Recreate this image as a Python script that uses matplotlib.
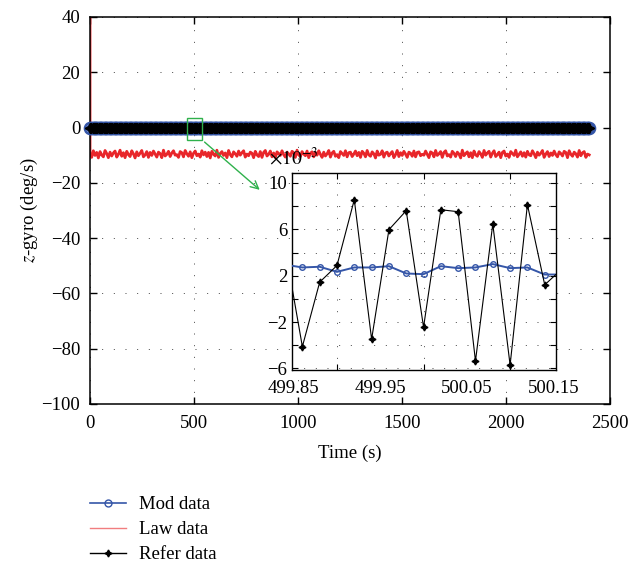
import numpy as np
import matplotlib.pyplot as plt
from matplotlib.patches import Rectangle
from matplotlib.lines import Line2D

plt.rcParams['font.family'] = ['Liberation Serif', 'DejaVu Serif']
plt.rcParams['mathtext.fontset'] = 'stix'
plt.rcParams['font.size'] = 13.5

# ---- main plot data ----
t_end = 2400
band_step = 6
band_level = 0.0   # mod / refer data are ~1e-3, i.e. zero at this scale
law_start = 45.0   # first law sample, goes off the top
law_noise = [
    -9.6, -10.8, -8.4, -10.1, -9.0, -11.0, -8.7, -9.9, -10.6, -8.3, -9.4, -10.9, -8.9, -10.3, -9.2, -8.5, -10.7, -9.7, -8.2, -10.4,
    -9.1, -10.9, -8.6, -9.8, -10.5, -8.4, -9.5, -11.0, -8.8, -10.2, -9.3, -8.3, -10.6, -9.9, -8.7, -10.8, -9.0, -10.1, -8.5, -9.6,
    -10.7, -8.9, -9.4, -10.9, -8.2, -10.3, -9.7, -8.6, -10.5, -9.2, -8.4, -10.0, -9.8, -10.8, -8.7, -9.1, -10.6, -8.3, -9.5, -10.4,
    -8.8, -10.9, -9.3, -8.5, -10.2, -9.6, -10.7, -8.4, -9.9, -8.9, -10.5, -9.0, -11.0, -8.6, -9.7, -10.3, -8.2, -10.8, -9.4, -8.7,
    -10.1, -9.2, -10.9, -8.3, -9.8, -10.6, -8.8, -9.5, -10.4, -8.5, -10.0, -9.1, -8.4, -10.7, -9.6, -10.2, -8.9, -9.3, -10.9, -8.6,
    -9.9, -10.5, -8.7, -10.8, -9.0, -8.3, -10.3, -9.7, -8.5, -10.6, -9.2, -10.9, -8.8, -9.4, -10.1, -8.4, -9.8, -10.7, -8.9, -9.5,
    -10.4, -8.6, -9.1, -10.8, -8.2, -9.9, -10.5, -8.7, -9.6, -10.2, -8.5, -10.9, -9.3, -8.8, -10.6, -9.0, -10.0, -8.4, -9.7, -10.8,
    -8.9, -10.3, -9.5, -8.3, -10.7, -9.2, -8.6, -10.4, -9.8, -10.9, -8.7, -9.4, -10.1, -8.4, -10.6, -9.1, -8.9, -10.5, -9.6, -8.5,
    -10.2, -9.0, -10.8, -8.6, -9.3, -10.6, -8.3, -9.9, -10.4, -8.8, -9.5, -11.0, -8.5, -10.0, -9.7, -8.4, -10.7, -9.2, -8.9, -10.3,
    -9.4, -8.7, -10.9, -9.8, -8.3, -10.5, -9.1, -10.1, -8.6, -9.6, -10.8, -8.9, -9.3, -10.4, -8.5, -10.6, -9.0, -8.8, -10.2, -9.7,
    -10.0, -8.5, -9.7, -10.9, -8.8, -9.2, -10.6, -8.3, -10.1, -9.5, -8.7, -10.8, -9.0, -8.4, -10.3, -9.8, -10.7, -8.6, -9.3, -10.5,
    -8.9, -9.6, -11.0, -8.2, -10.2, -9.4, -8.8, -10.6, -9.1, -10.9, -8.5, -9.9, -10.4, -8.7, -9.5, -10.8, -8.3, -10.0, -9.2, -8.6,
    -10.7, -9.3, -8.4, -10.5, -9.8, -8.9, -10.9, -9.0, -8.5, -10.3, -9.6, -10.8, -8.7, -9.4, -10.1, -8.2, -10.6, -9.7, -8.8, -10.4,
    -9.1, -10.7, -8.6, -9.9, -10.2, -8.4, -9.5, -10.9, -8.9, -10.0, -9.3, -8.3, -10.8, -9.6, -8.7, -10.5, -9.2, -10.1, -8.5, -9.8,
    -10.6, -8.8, -9.4, -10.3, -8.6, -9.0, -10.9, -8.4, -9.7, -10.4, -8.9, -9.5, -10.7, -8.3, -10.2, -9.1, -8.7, -10.8, -9.6, -9.9,
]

# ---- inset data (x 1e-3) ----
zoom_t = [499.84, 499.86, 499.88, 499.90, 499.92, 499.94, 499.96, 499.98, 500.00,
          500.02, 500.04, 500.06, 500.08, 500.10, 500.12, 500.14, 500.16]
mod_zoom = [2.95, 2.71, 2.77, 2.33, 2.71, 2.71, 2.82, 2.19, 2.13,
            2.82, 2.65, 2.71, 3.00, 2.65, 2.71, 2.10, 2.10]
refer_zoom = [4.42, -4.12, 1.44, 2.88, 8.56, -3.49, 5.97, 7.61, -2.45,
              7.69, 7.52, -5.36, 6.46, -5.71, 8.13, 1.21, 2.59]

blue = '#3556a8'
red = '#e8262a'
green = '#2fb14c'
grid_style = dict(color='#444444', linestyle=(0, (1, 11)), linewidth=0.7)

fig = plt.figure(figsize=(6.29, 5.65), dpi=100)
ax = fig.add_axes([0.1431, 0.2850, 0.8267, 0.6850])

t_band = np.arange(0, t_end + 1, band_step)
band = np.full(len(t_band), band_level)
t_law = np.concatenate([[0], np.linspace(0, t_end, len(law_noise))])
law = np.concatenate([[law_start], law_noise])

ax.plot(t_band, band, color=blue, marker='o', ms=8.6, mfc='none', mew=1.2, lw=1.2,
        clip_on=False, zorder=3)
ax.plot(t_law, law, color=red, lw=2.0, zorder=2)
ax.plot(t_band, band, color='black', marker=(4, 1, 0), ms=7.5, lw=1.0,
        clip_on=False, zorder=4)

ax.set_xlim(0, 2500)
ax.set_ylim(-100, 40)
ax.set_xticks(np.arange(0, 2501, 500))
ax.set_yticks(np.arange(-100, 41, 20))
ax.tick_params(direction='in', length=5, top=True, right=True, width=1)
ax.tick_params(axis='y', pad=7)
ax.tick_params(axis='x', pad=8)
for s in ax.spines.values():
    s.set_linewidth(1.1)
ax.grid(True, **grid_style)
ax.set_xlabel('Time (s)', labelpad=9)
ax.set_ylabel(r'$z$-gyro (deg/s)')
ax.yaxis.set_label_coords(-0.097, 0.5)

# zoom box + arrow
ax.add_patch(Rectangle((468, -4.6), 72.6, 8.0, fill=False, ec=green, lw=1.0, zorder=5))
ax.annotate('', xy=(826, -23.2), xytext=(540.6, -4.6),
            arrowprops=dict(arrowstyle='->', color=green, lw=1.0, mutation_scale=14))

# inset
axi = fig.add_axes([0.4642, 0.3451, 0.4197, 0.3487])
axi.plot(zoom_t, np.array(mod_zoom) * 1e-3, color=blue, marker='o', ms=4, mfc='none',
         mew=1.0, lw=1.4, zorder=3)
axi.plot(zoom_t, np.array(refer_zoom) * 1e-3, color='black', marker=(4, 1, 0), ms=5,
         lw=0.8, zorder=4)
axi.set_xlim(499.848, 500.153)
axi.set_ylim(-6.14e-3, 10.86e-3)
axi.set_xticks([499.9, 500.0, 500.1])
axi.set_xticklabels([])
axi.set_xticks([499.85, 499.95, 500.05, 500.15], minor=True)
axi.set_xticklabels(['499.85', '499.95', '500.05', '500.15'], minor=True)
yv = np.arange(-6, 11, 2)
axi.set_yticks(yv * 1e-3)
axi.set_yticklabels([(str(v).replace('-', '\u2212') if v % 4 == 2 else '') for v in yv])
axi.tick_params(which='major', direction='in', length=4, top=True, right=True)
axi.tick_params(which='minor', length=0, pad=7)
axi.grid(True, which='major', **grid_style)
for s in axi.spines.values():
    s.set_linewidth(1.0)

fig.text(0.428, 0.708, r'$\times10^{-3}$', fontsize=14, zorder=10)

handles = [
    Line2D([], [], color=blue, marker='o', ms=5, mfc='none', mew=1.0, lw=1.2),
    Line2D([], [], color=red, lw=1.0, alpha=0.6),
    Line2D([], [], color='black', marker=(4, 1, 0), ms=5, lw=1.0),
]
fig.legend(handles, ['Mod data', 'Law data', 'Refer data'], loc='upper left',
           bbox_to_anchor=(0.143, 0.122), frameon=False,
           borderpad=0, borderaxespad=0, handlelength=1.9, handletextpad=0.7,
           labelspacing=0.42)

fig.savefig('out.png', dpi=100)
